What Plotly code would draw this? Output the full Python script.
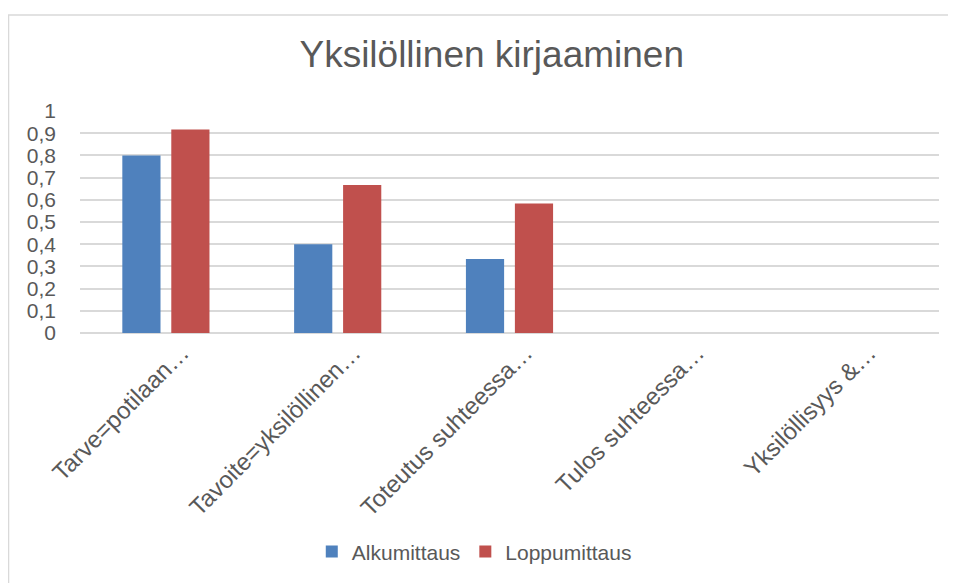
import plotly.graph_objects as go

categories = ["Tarve=potilaan…", "Tavoite=yksilöllinen…", "Toteutus suhteessa…",
              "Tulos suhteessa…", "Yksilöllisyys &…"]
alkumittaus = [0.8, 0.4, 0.3333, 0, 0]
loppumittaus = [0.9167, 0.6667, 0.5833, 0, 0]
y_ticks = [0, 0.1, 0.2, 0.3, 0.4, 0.5, 0.6, 0.7, 0.8, 0.9, 1]

FONT = "Liberation Sans, Arial, sans-serif"
TXT = "#595959"
GRID = "#d9d9d9"

fig = go.Figure()
fig.add_trace(go.Bar(name="Alkumittaus", x=categories, y=alkumittaus,
                     marker=dict(color="#4f81bd", line=dict(width=0))))
fig.add_trace(go.Bar(name="Loppumittaus", x=categories, y=loppumittaus,
                     marker=dict(color="#c0504d", line=dict(width=0))))

fig.update_layout(
    width=956, height=583,
    margin=dict(l=72, r=25, t=103, b=258),
    paper_bgcolor="white", plot_bgcolor="white",
    separators=", ",
    barmode="group", bargap=0.43, bargroupgap=0.22,
    font=dict(family=FONT, color=TXT, size=21),
    title=dict(text="Yksilöllinen kirjaaminen", x=0.506, xanchor="center",
               y=0.921, yanchor="middle",
               font=dict(family=FONT, size=37, color=TXT)),
    legend=dict(orientation="h", x=0.459, xanchor="center", y=-0.986, yanchor="middle",
                font=dict(family=FONT, size=21, color=TXT), itemwidth=30,
                traceorder="normal"),
    shapes=[dict(type="rect", xref="paper", yref="paper",
                 x0=-0.0832, x1=1.06, y0=-1.3, y1=1.432,
                 line=dict(color=GRID, width=1.5), fillcolor="rgba(0,0,0,0)", layer="below")],
)
fig.update_xaxes(tickangle=-45, showline=False, showgrid=False, ticks="",
                 ticklabelshift=16, ticklabelstandoff=0,
                 tickfont=dict(family=FONT, size=24, color=TXT))
fig.update_yaxes(range=[0, 1.0], tickvals=y_ticks, showgrid=True, gridcolor=GRID, gridwidth=1.5,
                 zeroline=True, zerolinecolor=GRID, zerolinewidth=1.5,
                 ticklabelstandoff=23, tickfont=dict(family=FONT, size=21, color=TXT))

fig.write_html("out.html")
